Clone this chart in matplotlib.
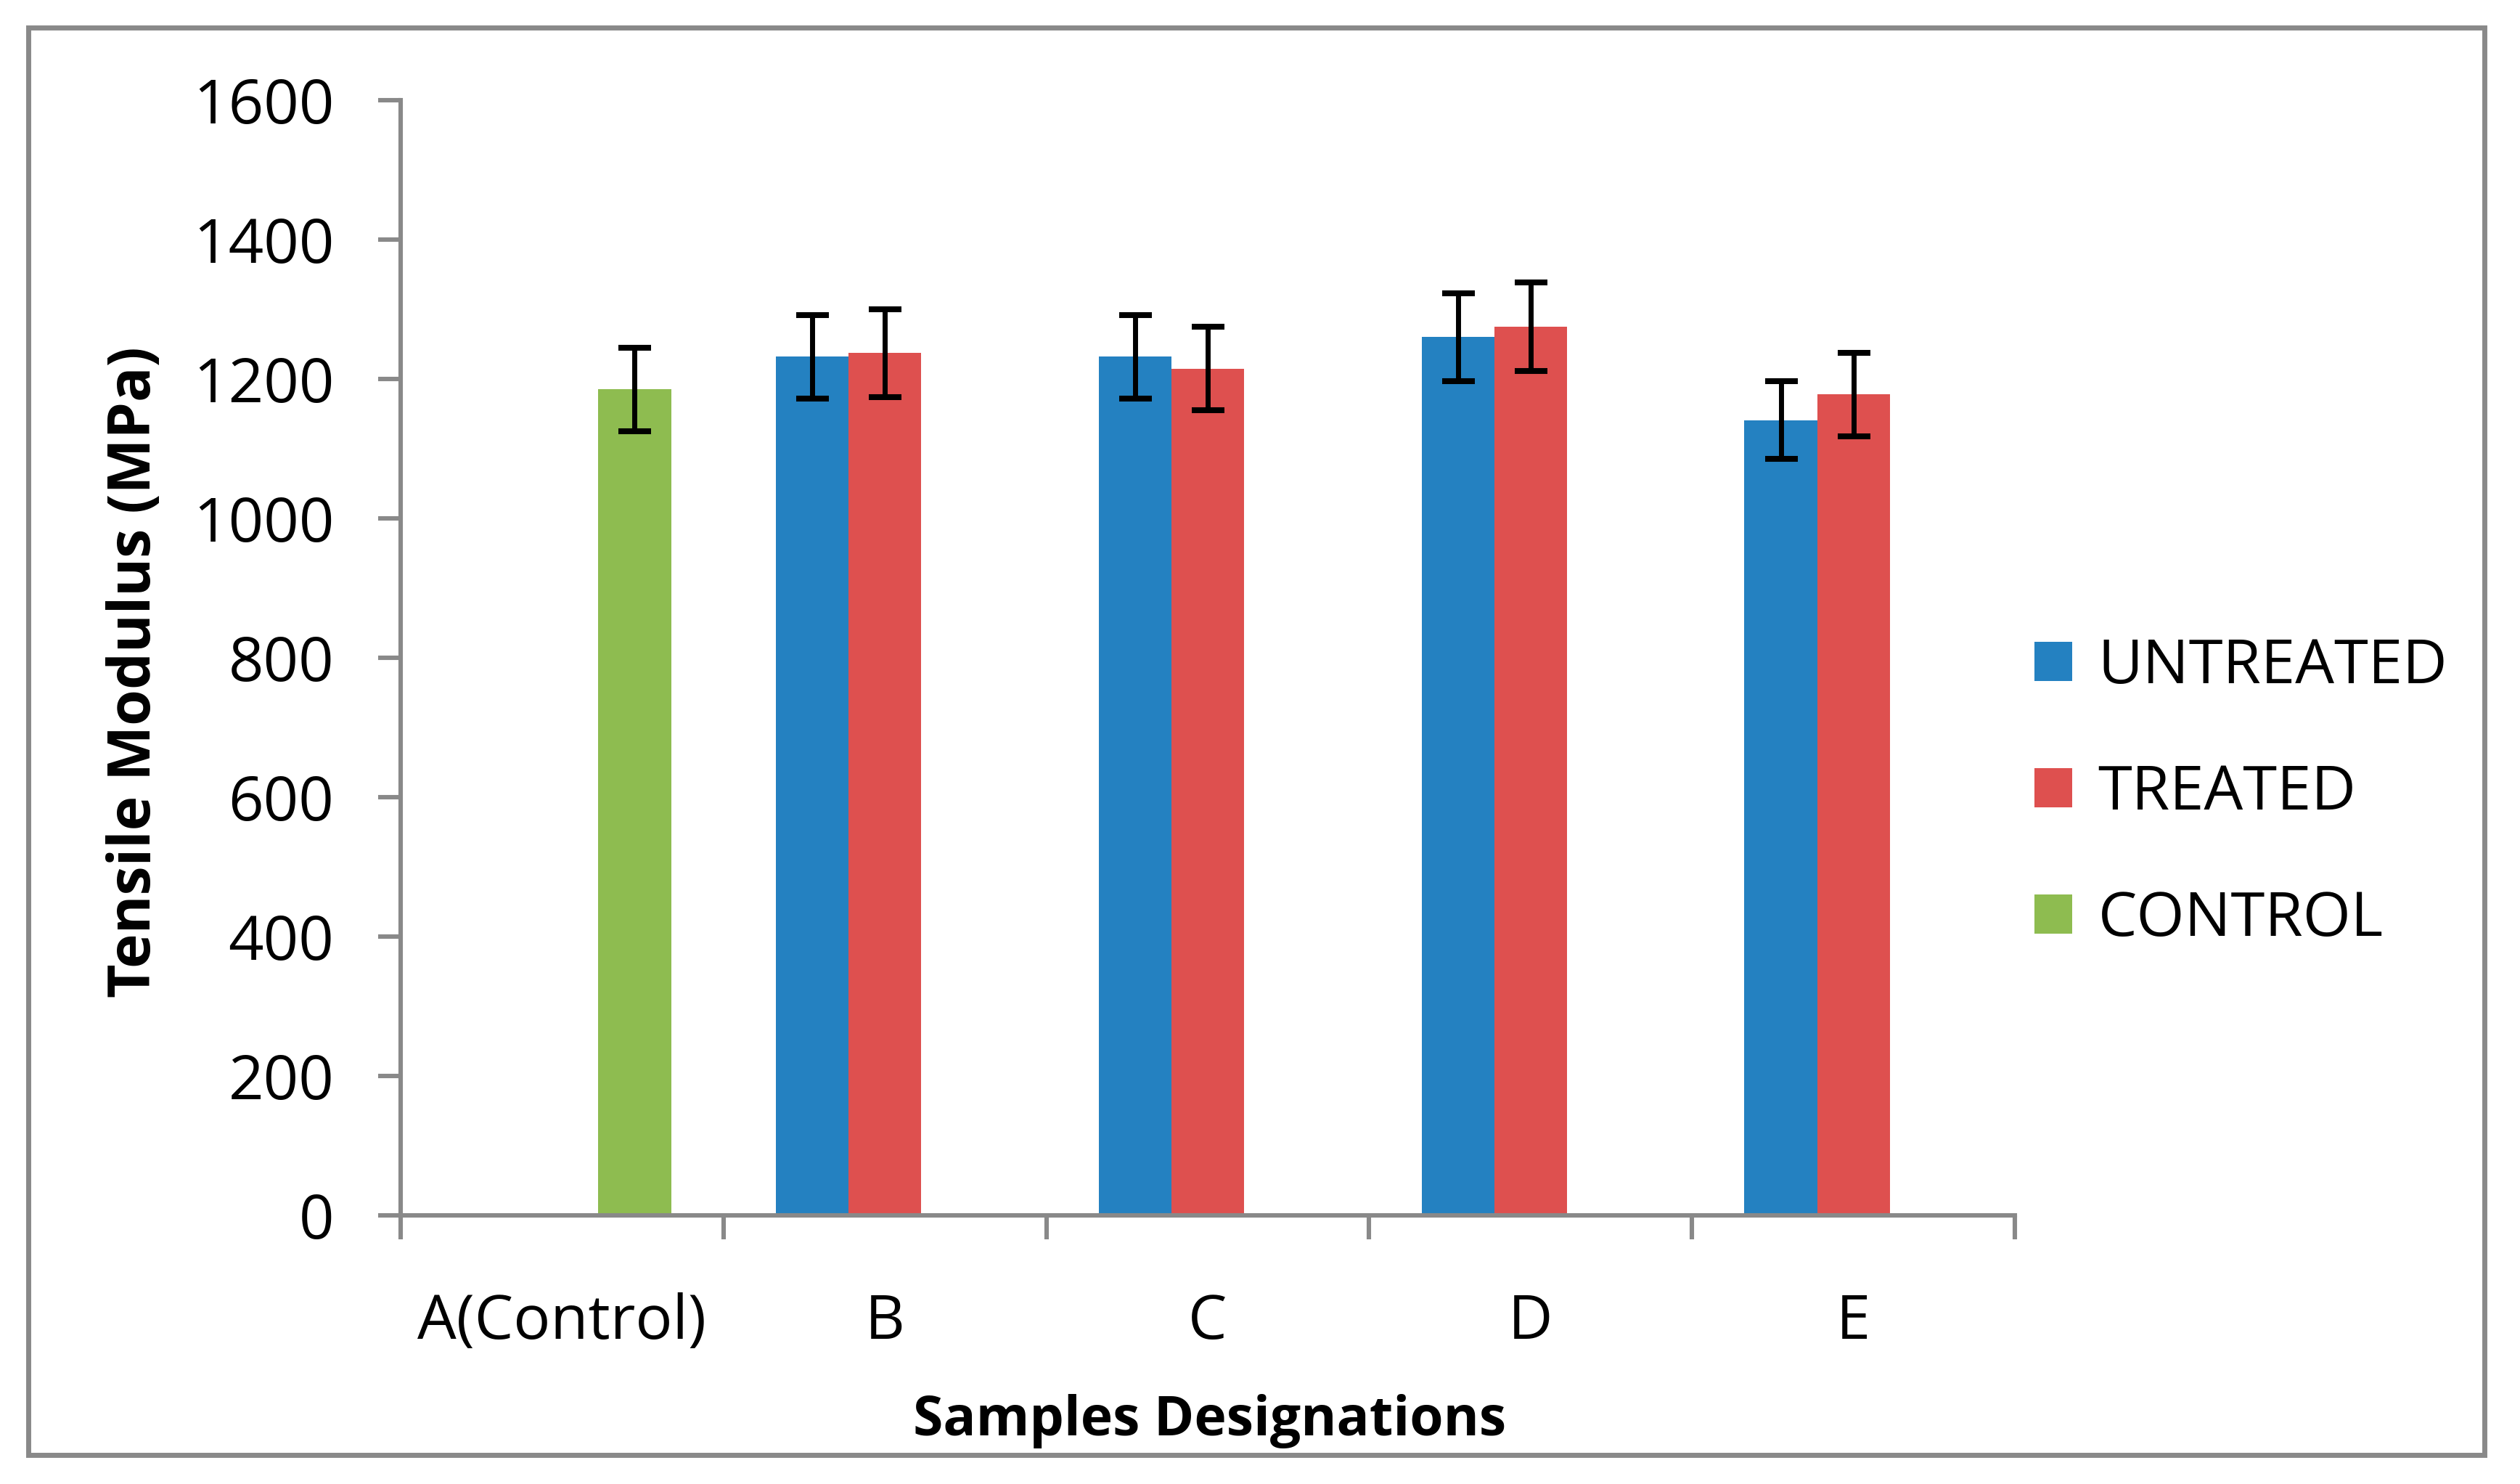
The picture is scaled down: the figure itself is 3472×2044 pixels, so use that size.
import matplotlib
matplotlib.use("Agg")
import matplotlib.pyplot as plt
from matplotlib.patches import Patch, Rectangle
import numpy as np

# данные графика
samples = ["A(Control)", "B", "C", "D", "E"]
untreated = [None, 1232, 1232, 1260, 1141]
untreated_err = [None, 60, 60, 63, 56]
treated = [None, 1237, 1215, 1275, 1178]
treated_err = [None, 63, 60, 64, 60]
control = [1185, None, None, None, None]
control_err = [60, None, None, None, None]

plt.rcParams['font.family'] = ['Open Sans', 'DejaVu Sans']

W, H, DPI = 3473, 2044, 200
fig = plt.figure(figsize=(W / DPI, H / DPI), dpi=DPI)
ax = fig.add_axes([552 / W, 1 - 1674 / H, 2224 / W, 1536 / H])

gray = '#898989'
bar_w = 0.225
series = [
    (untreated, untreated_err, -bar_w, '#2481C1', 'UNTREATED'),
    (treated, treated_err, 0.0, '#DE504F', 'TREATED'),
    (control, control_err, bar_w, '#8EBC50', 'CONTROL'),
]

for vals, errs, off, col, name in series:
    idx = [i for i, v in enumerate(vals) if v is not None]
    x = np.array(idx) + 0.5 + off
    y = [vals[i] for i in idx]
    e = [errs[i] for i in idx]
    ax.bar(x, y, width=bar_w, color=col, linewidth=0, zorder=2)
    ax.errorbar(x, y, yerr=e, fmt='none', ecolor='black', elinewidth=2.5,
                capsize=8.1, capthick=2.9, zorder=3)

ax.set_xlim(0, 5)
ax.set_ylim(0, 1600)
ax.set_yticks(np.arange(0, 1601, 200))
ax.set_xticks(np.arange(0, 6))
ax.set_xticklabels([])
ax.set_xticks(np.arange(len(samples)) + 0.5, minor=True)
ax.set_xticklabels(samples, minor=True)

for s in ['top', 'right']:
    ax.spines[s].set_visible(False)
for s in ['left', 'bottom']:
    ax.spines[s].set_color(gray)
    ax.spines[s].set_linewidth(2.2)

ax.tick_params(axis='y', which='major', length=11, width=2.2, color=gray,
               labelsize=30.6, pad=22)
ax.tick_params(axis='x', which='major', length=12, width=2.2, color=gray)
ax.tick_params(axis='x', which='minor', length=0, labelsize=30.6, pad=38)

fig.text(1667 / W, 1 - 1977 / H, 'Samples Designations', ha='center',
         va='baseline', fontsize=27, fontweight='bold')
fig.text(186 / W, 1 - 926 / H, 'Tensile Modulus (MPa)', ha='center',
         va='center', rotation=90, fontsize=29, fontweight='bold')

handles = [Patch(facecolor=c, edgecolor='none', label=n) for _, _, _, c, n in series]
fig.legend(handles=handles, loc='center left', bbox_to_anchor=(2803 / W, 1 - 1093 / H),
           frameon=False, fontsize=30.6, handlelength=0.61, handleheight=0.61,
           handletextpad=0.42, labelspacing=1.06, borderpad=0, borderaxespad=0)

# рамка вокруг всего рисунка
fig.add_artist(Rectangle((39 / W, 1 - 2004 / H), (3423 - 39) / W, (2004 - 38) / H,
                         transform=fig.transFigure, fill=False, edgecolor=gray,
                         linewidth=2.5))

fig.savefig('out.png', dpi=DPI, facecolor='white')
